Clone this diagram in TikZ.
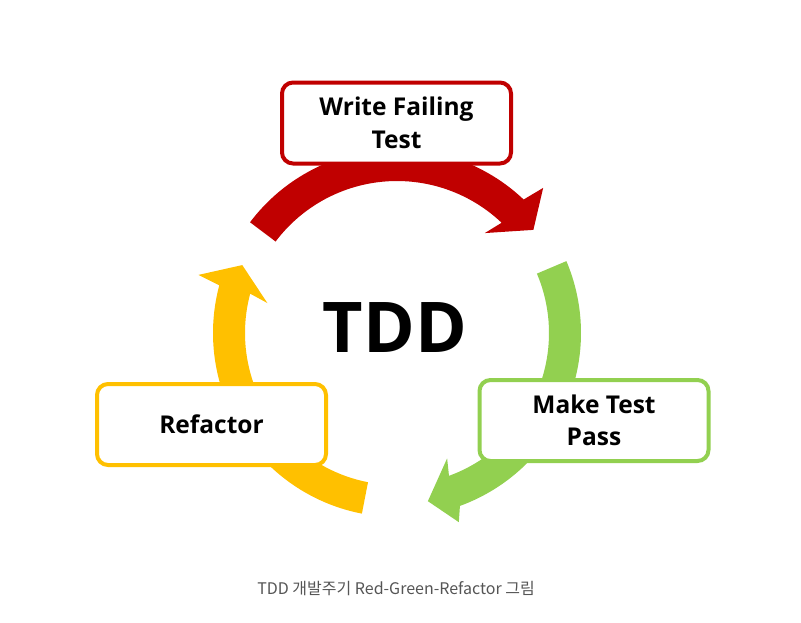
\documentclass[tikz,border=0pt]{standalone}
\usepackage{fontspec}
\setmainfont{Open Sans}
\newfontfamily\krfont{Noto Sans CJK KR}
\usetikzlibrary{calc}
\definecolor{tddred}{HTML}{C00000}
\definecolor{tddgreen}{HTML}{92D050}
\definecolor{tddyellow}{HTML}{FFC000}
\definecolor{capgray}{HTML}{555555}
\begin{document}
\begin{tikzpicture}[x=1pt,y=1pt,
  stagebox/.style={draw=#1, line width=4pt, rounded corners=11pt, fill=white,
    minimum width=229pt, minimum height=81pt, align=center, inner sep=0pt,
    font=\fontsize{24.5}{32.5}\selectfont\bfseries}]
\useasboundingbox (0,0) rectangle (801,-622);
\coordinate (c) at (397,-333);
% red arc
\fill[tddred] ($(c)+(143:184)$) arc[start angle=143,end angle=46.5,radius=184]
  -- ($(c)+(44.8:206)$) -- ($(c)+(37.1:171)$) -- ($(c)+(48.7:133)$)
  -- ($(c)+(46.5:152)$) arc[start angle=46.5,end angle=143,radius=152] -- cycle;
% green arc
\fill[tddgreen] ($(c)+(23:184)$) arc[start angle=23,end angle=-70,radius=184]
  -- ($(c)+(-71.9:199)$) -- ($(c)+(-79.6:171)$) -- ($(c)+(-68.2:135)$)
  -- ($(c)+(-70:152)$) arc[start angle=-70,end angle=23,radius=152] -- cycle;
% yellow arc
\fill[tddyellow] ($(c)+(-101:184)$) arc[start angle=-101,end angle=-195,radius=184]
  -- ($(c)+(-196.3:207)$) -- ($(c)+(-203.7:169)$) -- ($(c)+(-193:133)$)
  -- ($(c)+(-195:152)$) arc[start angle=-195,end angle=-101,radius=152] -- cycle;
% boxes
\node[stagebox=tddred] (write) at (396.5,-123) {Write Failing\\Test};
\node[stagebox=tddgreen] (pass) at (594,-420.5) {Make Test\\Pass};
\node[stagebox=tddyellow] (refactor) at (211.5,-424.5) {Refactor};
% center
\node[font=\fontsize{70}{80}\selectfont\bfseries] (tdd) at (395,-328) {TDD};
% caption
\node[font=\krfont\fontsize{16}{19}\selectfont, text=capgray] (caption) at (396,-588) {TDD 개발주기 Red-Green-Refactor 그림};
\end{tikzpicture}
\end{document}
